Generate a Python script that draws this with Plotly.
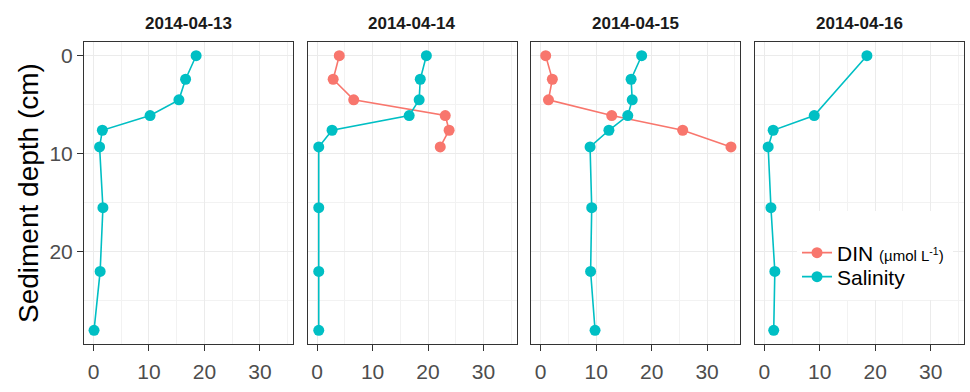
import plotly.graph_objects as go

# Sampling depths (cm) for the full profile and for the DIN profile
depth = [0, 2.4, 4.5, 6.1, 7.6, 9.3, 15.5, 22, 28]
depth_din = [0, 2.4, 4.5, 6.1, 7.6, 9.3]
depth_16 = [0, 6.1, 7.6, 9.3, 15.5, 22, 28]

dates = ["2014-04-13", "2014-04-14", "2014-04-15", "2014-04-16"]

sal_13 = [18.5, 16.6, 15.4, 10.2, 1.6, 1.1, 1.7, 1.2, 0.1]
sal_14 = [19.7, 18.6, 18.4, 16.6, 2.7, 0.3, 0.3, 0.3, 0.3]
din_14 = [4.0, 2.9, 6.6, 23.1, 23.8, 22.2]
sal_15 = [18.2, 16.3, 16.5, 15.7, 12.3, 8.9, 9.2, 9.0, 9.8]
din_15 = [0.9, 2.1, 1.4, 12.8, 25.6, 34.3]
sal_16 = [18.5, 9.0, 1.6, 0.7, 1.2, 1.9, 1.7]

x_ticks = [0, 10, 20, 30]
y_ticks = [0, 10, 20]

RED = "#F8766D"
CYAN = "#00BFC4"
FONT = "Liberation Sans, Arial, sans-serif"

W, H = 970, 392
L, R, T, B = 84, 6, 42, 48
plot_w = W - L - R
plot_h = H - T - B
panel_w = 209.2
gap = (plot_w - 4 * panel_w) / 3

panels = [
    (None, None, depth, sal_13),
    (depth_din, din_14, depth, sal_14),
    (depth_din, din_15, depth, sal_15),
    (None, None, depth_16, sal_16),
]

din_traces, sal_traces = [], []
for i, (d_din, v_din, d_sal, v_sal) in enumerate(panels):
    xa = "x" if i == 0 else f"x{i+1}"
    ya = "y" if i == 0 else f"y{i+1}"
    if v_din is not None:
        din_traces.append(go.Scatter(
            x=v_din, y=d_din, xaxis=xa, yaxis=ya, mode="lines+markers",
            name="DIN <span style='font-size:15px'>(µmol L<sup>-1</sup>)</span>",
            legendgroup="din", showlegend=not din_traces, legend="legend",
            line=dict(color=RED, width=1.6), marker=dict(color=RED, size=11),
        ))
    sal_traces.append(go.Scatter(
        x=v_sal, y=d_sal, xaxis=xa, yaxis=ya, mode="lines+markers",
        name="Salinity", legendgroup="sal", showlegend=not sal_traces,
        legend="legend2",
        line=dict(color=CYAN, width=1.6), marker=dict(color=CYAN, size=11),
    ))

# DIN drawn first, salinity on top
fig = go.Figure(data=din_traces + sal_traces)

axis_common = dict(
    showline=True, mirror=True, linecolor="#333333", linewidth=1.1,
    showgrid=True, gridcolor="#EBEBEB", gridwidth=1.1,
    zeroline=False, ticks="outside", ticklen=6, tickcolor="#333333",
    tickwidth=1.1, tickfont=dict(family=FONT, size=21, color="#4D4D4D"),
    minor=dict(showgrid=True, gridcolor="#F2F2F2", gridwidth=0.6, ticks=""),
)

legend_style = dict(
    x=(797 - L) / plot_w, xanchor="left", yanchor="middle",
    bgcolor="rgba(0,0,0,0)", font=dict(family=FONT, size=21, color="black"),
    itemwidth=30,
)

layout = dict(
    width=W, height=H, margin=dict(l=L, r=R, t=T, b=B),
    paper_bgcolor="white", plot_bgcolor="white",
    font=dict(family=FONT, color="black"),
    showlegend=True,
    legend=dict(legend_style, y=(H - B - 253) / plot_h),
    legend2=dict(legend_style, y=(H - B - 277) / plot_h),
)

annotations = []
for i in range(4):
    x0 = i * (panel_w + gap) / plot_w
    x1 = (i * (panel_w + gap) + panel_w) / plot_w
    xk = "xaxis" if i == 0 else f"xaxis{i+1}"
    yk = "yaxis" if i == 0 else f"yaxis{i+1}"
    layout[xk] = dict(
        axis_common, domain=[x0, x1], range=[-1.71, 36.0],
        tickvals=x_ticks, ticktext=[str(v) for v in x_ticks],
        minor=dict(axis_common["minor"], tickvals=[5, 15, 25, 35]),
        ticklabelstandoff=3,
        anchor="y" if i == 0 else f"y{i+1}",
    )
    layout[yk] = dict(
        axis_common, domain=[0, 1], range=[29.4, -1.4],
        tickvals=y_ticks, ticktext=[str(v) for v in y_ticks],
        minor=dict(axis_common["minor"], tickvals=[5, 15, 25]),
        showticklabels=(i == 0), ticks="outside" if i == 0 else "",
        anchor="x" if i == 0 else f"x{i+1}",
    )
    annotations.append(dict(
        text=f"<b>{dates[i]}</b>", xref="paper", yref="paper",
        x=(x0 + x1) / 2, y=1 + (T - 24) / plot_h,
        xanchor="center", yanchor="middle", showarrow=False,
        font=dict(family=FONT, size=17, color="#1A1A1A"),
    ))

annotations.append(dict(
    text="Sediment depth (cm)", xref="paper", yref="paper",
    x=(28 - L) / plot_w, y=0.5, textangle=-90,
    xanchor="center", yanchor="middle", showarrow=False,
    font=dict(family=FONT, size=28, color="black"),
))
layout["annotations"] = annotations

# White backing box behind the legend inside the last panel
layout["shapes"] = [dict(
    type="rect", xref="paper", yref="paper",
    x0=(797 - L) / plot_w, x1=(953 - L) / plot_w,
    y0=(H - B - 300) / plot_h, y1=(H - B - 211) / plot_h,
    fillcolor="white", line=dict(width=0), layer="above",
)]

fig.update_layout(**layout)
fig.write_html("out.html")
